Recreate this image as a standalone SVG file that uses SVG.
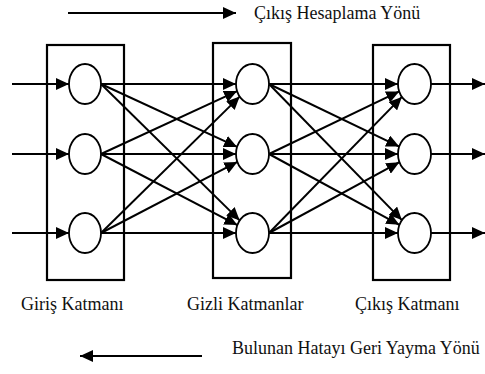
<svg xmlns="http://www.w3.org/2000/svg" width="485" height="374" viewBox="0 0 485 374">
<defs>
<marker id="ah" markerUnits="userSpaceOnUse" markerWidth="13" markerHeight="12" refX="13" refY="6" orient="auto">
<path d="M0,0 L13,6 L0,12 z" fill="#000"/>
</marker>
<style>
.box{fill:none;stroke:#000;stroke-width:2.2}
.n{fill:#fff;stroke:#000;stroke-width:1.8}
.c line{stroke:#000;stroke-width:2;marker-end:url(#ah)}
.t{font-family:'Liberation Serif','Times New Roman','DejaVu Serif',serif;font-size:18px;fill:#111}
</style>
</defs>
<rect width="485" height="374" fill="#fff"/>
<g id="dir-top">
<line x1="68" y1="13" x2="236" y2="13" stroke="#000" stroke-width="2" marker-end="url(#ah)"/>
<text class="t" x="254" y="19" font-family="Liberation Serif, serif">Çıkış Hesaplama Yönü</text>
</g>
<g id="layer-input">
<rect class="box" x="47" y="45" width="77" height="235"/>
<text class="t" x="21" y="310" font-family="Liberation Serif, serif">Giriş Katmanı</text>
</g>
<g id="layer-hidden">
<rect class="box" x="213" y="43" width="78" height="235"/>
<text class="t" x="187" y="310" font-family="Liberation Serif, serif">Gizli Katmanlar</text>
</g>
<g id="layer-output">
<rect class="box" x="373" y="45" width="77" height="235"/>
<text class="t" x="355" y="310" font-family="Liberation Serif, serif">Çıkış Katmanı</text>
</g>
<g class="c" id="connectors">
<line x1="12" y1="84" x2="69" y2="84"/>
<line x1="12" y1="154" x2="69" y2="154"/>
<line x1="12" y1="233" x2="69" y2="233"/>
<line x1="101" y1="84" x2="236" y2="84"/>
<line x1="101" y1="84" x2="237.1" y2="146.9"/>
<line x1="101" y1="84" x2="239.7" y2="220.4"/>
<line x1="101" y1="154" x2="237.1" y2="91.1"/>
<line x1="101" y1="154" x2="236" y2="154"/>
<line x1="101" y1="154" x2="237.4" y2="225.1"/>
<line x1="101" y1="233" x2="239.7" y2="96.6"/>
<line x1="101" y1="233" x2="237.4" y2="161.9"/>
<line x1="101" y1="233" x2="236" y2="233"/>
<line x1="269" y1="84" x2="398" y2="84"/>
<line x1="269" y1="84" x2="399.2" y2="146.6"/>
<line x1="269" y1="84" x2="401.9" y2="220.1"/>
<line x1="269" y1="154" x2="399.2" y2="91.4"/>
<line x1="269" y1="154" x2="398" y2="154"/>
<line x1="269" y1="154" x2="399.4" y2="224.8"/>
<line x1="269" y1="233" x2="401.9" y2="96.9"/>
<line x1="269" y1="233" x2="399.4" y2="162.2"/>
<line x1="269" y1="233" x2="398" y2="233"/>
<line x1="431" y1="84" x2="485" y2="84"/>
<line x1="431" y1="154" x2="485" y2="154"/>
<line x1="431" y1="233" x2="485" y2="233"/>
</g>
<g id="i1"><ellipse class="n" cx="85" cy="84" rx="16" ry="20"/></g>
<g id="i2"><ellipse class="n" cx="85" cy="154" rx="16" ry="20"/></g>
<g id="i3"><ellipse class="n" cx="85" cy="233" rx="16" ry="20"/></g>
<g id="h1"><ellipse class="n" cx="252.5" cy="84" rx="16.5" ry="20"/></g>
<g id="h2"><ellipse class="n" cx="252.5" cy="154" rx="16.5" ry="20"/></g>
<g id="h3"><ellipse class="n" cx="252.5" cy="233" rx="16.5" ry="20"/></g>
<g id="o1"><ellipse class="n" cx="414.5" cy="84" rx="16.5" ry="20"/></g>
<g id="o2"><ellipse class="n" cx="414.5" cy="154" rx="16.5" ry="20"/></g>
<g id="o3"><ellipse class="n" cx="414.5" cy="233" rx="16.5" ry="20"/></g>
<g id="dir-bottom">
<line x1="202" y1="356" x2="80" y2="356" stroke="#000" stroke-width="2" marker-end="url(#ah)"/>
<text class="t" x="232" y="354" font-family="Liberation Serif, serif">Bulunan Hatayı Geri Yayma Yönü</text>
</g>
</svg>
